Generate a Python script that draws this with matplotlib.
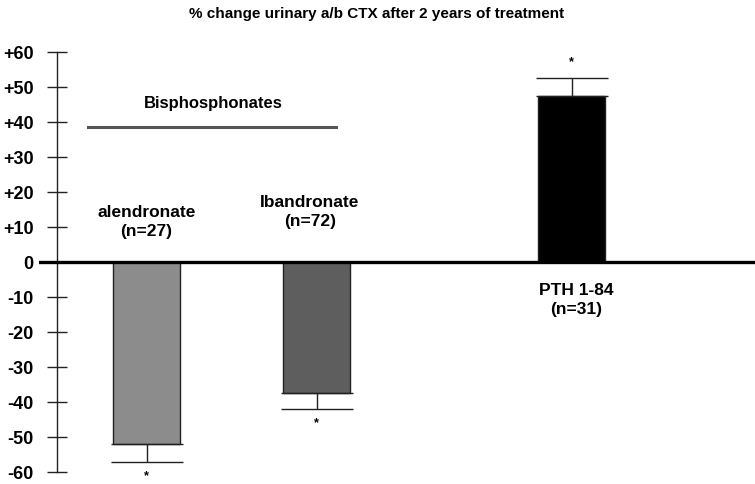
import matplotlib.pyplot as plt

plt.rcParams['font.family'] = ['Liberation Sans', 'DejaVu Sans']
plt.rcParams['font.weight'] = 'bold'

# data
labels = ['alendronate\n(n=27)', 'Ibandronate\n(n=72)', 'PTH 1-84\n(n=31)']
positions = [0, 1, 2.5]
values = [-52, -37.5, 47.5]
errors = [5, 4.5, 5]
colors = ['#8c8c8c', '#5e5e5e', '#000000']
yticks = [-60, -50, -40, -30, -20, -10, 0, 10, 20, 30, 40, 50, 60]
ytick_labels = ['-60', '-50', '-40', '-30', '-20', '-10', '0',
                '+10', '+20', '+30', '+40', '+50', '+60']

fig = plt.figure(figsize=(7.55, 4.85), dpi=100)
ax = fig.add_axes([39 / 755, 12 / 485, 716 / 755, 420 / 485])

xmin = (39 - 146.5) / 170
xmax = (755 - 146.5) / 170
yaxis_x = (57 - 146.5) / 170
ax.set_xlim(xmin, xmax)
ax.set_ylim(-60, 60)

ax.bar(positions, values, width=0.39, color=colors, edgecolor='#222222',
       linewidth=1, zorder=2)

# one-sided error bars
lower = [e if v < 0 else 0 for v, e in zip(values, errors)]
upper = [e if v > 0 else 0 for v, e in zip(values, errors)]
ax.errorbar(positions, values, yerr=[lower, upper], fmt='none',
            ecolor='#222222', elinewidth=1, capsize=26, capthick=1, zorder=3)

# significance stars
for p, v, e in zip(positions, values, errors):
    if v < 0:
        ax.text(p, v - e - 3.8, '*', ha='center', va='center', fontsize=9)
    else:
        ax.text(p, v + e + 5, '*', ha='center', va='center', fontsize=9)

# group labels
label_y = [11.7, 14.6, -10.5]
label_x = [0, 0.96, 2.53]
for lx, ly, lab in zip(label_x, label_y, labels):
    ax.text(lx, ly, lab, ha='center', va='center', fontsize=12.5,
            linespacing=1.3)

# bisphosphonates bracket
ax.plot([(88 - 146.5) / 170, (336 - 146.5) / 170], [38.5, 38.5],
        color='#555555', linewidth=2.2, zorder=2)
ax.text((213 - 146.5) / 170, 45.5, 'Bisphosphonates', ha='center',
        va='center', fontsize=12)

# zero line
ax.axhline(0, color='black', linewidth=2.4, zorder=4)

for s in ['top', 'right', 'bottom']:
    ax.spines[s].set_visible(False)
ax.spines['left'].set_position(('data', yaxis_x))
ax.spines['left'].set_linewidth(1)
ax.spines['left'].set_color('#222222')
ax.set_xticks([])
ax.set_yticks(yticks)
ax.set_yticklabels(ytick_labels, fontsize=13, fontweight='bold')
ax.tick_params(axis='y', direction='inout', length=14, width=1,
               color='#222222', pad=10)

fig.text(377 / 755, 1 - 14 / 485,
         '% change urinary a/b CTX after 2 years of treatment',
         ha='center', va='center', fontsize=11, fontweight='bold')

fig.savefig('out.png', dpi=100)
